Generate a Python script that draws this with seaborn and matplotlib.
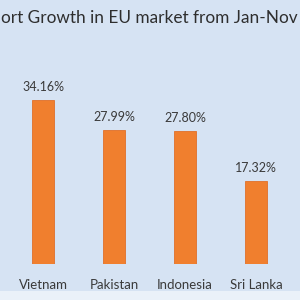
import matplotlib
matplotlib.use("Agg")
import matplotlib.pyplot as plt
import seaborn as sns
import pandas as pd
from matplotlib.patches import Rectangle

countries = ["Vietnam", "Pakistan", "Indonesia", "Sri Lanka"]
growth = [34.16, 27.99, 27.80, 17.32]
title = "ort Growth in EU market from Jan-Nov"

df = pd.DataFrame({"country": countries, "growth": growth})

sns.set_theme(style="white")
plt.rcParams["font.family"] = ["Lato", "DejaVu Sans"]

bg = "#d6e3f3"
fig = plt.figure(figsize=(3, 3), dpi=100, facecolor=bg)
fig.patches.append(Rectangle((0, 0), 1, 9 / 300, transform=fig.transFigure,
                             facecolor="#eaf1f9", edgecolor="none", zorder=0))

ax = fig.add_axes([0, 36 / 300, 1, 264 / 300])
ax.set_facecolor("none")
sns.barplot(data=df, x="country", y="growth", color="#f07f2e", width=0.31,
            saturation=1, ax=ax, edgecolor="#e0702a", linewidth=0.6)

ax.set_ylim(0, 55)
ax.set_xlim(-43 / 71, 257 / 71)
for i, v in enumerate(growth):
    ax.text(i, v + 1.4, f"{v:.2f}%", ha="center", va="bottom",
            fontsize=9, color="#3a3a3a")

ax.set_xlabel("")
ax.set_ylabel("")
ax.set_yticks([])
ax.tick_params(axis="x", length=0, pad=11, labelsize=9.5, labelcolor="#3a3a3a")
for s in ax.spines.values():
    s.set_visible(False)

t = fig.text(1 / 300, 1 - 18 / 300, title, ha="left", va="center",
             fontsize=12, color="#2e2e2e")
fig.canvas.draw()
w = t.get_window_extent().width
t.set_fontsize(12 * 295 / w)

fig.savefig("out.png", dpi=100, facecolor=bg)
